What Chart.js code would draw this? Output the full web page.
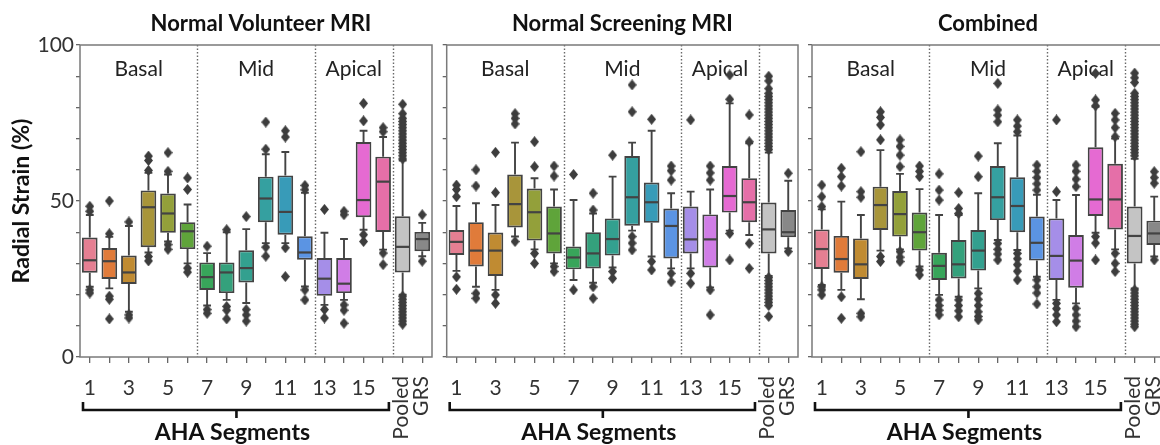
<!DOCTYPE html>
<html>
<head>
<meta charset="utf-8">
<script src="https://cdn.jsdelivr.net/npm/chart.js@4.4.1/dist/chart.umd.min.js"></script>
<style>
  html, body { margin: 0; padding: 0; background: #fff; }
  body { width: 1160px; height: 445px; overflow: hidden; position: relative; }
  canvas { position: absolute; top: 0; }
</style>
</head>
<body>
<canvas id="volunteerChart" width="440" height="445" style="left:0px"></canvas>
<canvas id="screeningChart" width="368" height="445" style="left:436px"></canvas>
<canvas id="combinedChart" width="368" height="445" style="left:802px"></canvas>
<script>
const segments = ['1', '2', '3', '4', '5', '6', '7', '8', '9', '10', '11', '12', '13', '14', '15', '16', 'Pooled', 'GRS'];
const regionNames = ['Basal', 'Mid', 'Apical'];
const regionCenters = [2.5, 8.5, 13.5]; // in category units
const dividerAfter = [5, 11, 15];
const yTicks = [0, 50, 100];

const boxColors = ['#e57f92', '#e07b3a', '#c08b32', '#a8953a', '#93a03a', '#5fa43a', '#38a55a', '#34a17c', '#33a08f',
    '#35a0a0', '#389bb8', '#5b94e3', '#a58ee8', '#d07de6', '#e56ad2', '#e56fa8', '#c4c4c4', '#888888'];
const lineColor = '#434343';
const outlierColor = '#3d3d3d';

// Normal Volunteer MRI
const volunteerLow = [22.5, 22, 14.5, 33.5, 37, 30, 16.5, 18.3, 17.3, 36.5, 36.5, 22.6, 16.7, 18.3, 40.8, 34.4, 20, 32.3];
const volunteerQ1 = [27, 25, 23.4, 35.2, 39.8, 34.6, 21.5, 20.5, 23.9, 43.2, 39.2, 31.2, 19.6, 20.5, 44.8, 40.1, 27.1, 33.9];
const volunteerMedian = [31, 30.7, 27.1, 48, 46, 40.3, 25.6, 27.1, 28.5, 50.8, 46.5, 33.5, 25.1, 23.5, 50.3, 56.2, 35.3, 37.8];
const volunteerQ3 = [38.3, 34.9, 32.5, 53.4, 52.4, 43.2, 30.3, 30.3, 34.2, 57.8, 58.2, 38.7, 31.7, 31.7, 68.9, 64.2, 45.1, 40.1];
const volunteerHigh = [45.5, 38.5, 42, 59, 58.5, 48.9, 33.3, 40, 41, 65, 65.7, 52.6, 39.8, 37.8, 72.5, 70.5, 63, 43];
const volunteerOutliers = [
    [48.3, 46.7, 21.5, 20.5],
    [39.5, 50, 19.5, 18.5, 12.2],
    [43.3, 13.5, 12.5],
    [64.4, 63, 59.8, 32.2, 30.8],
    [65.5, 59.5, 36, 34.5],
    [57.4, 53.7, 28.5, 27.2],
    [35.5, 15.2, 14],
    [40.8, 16.2, 15, 12.2],
    [45, 15.2, 13.5, 11.5],
    [75.3, 66.6, 35.2, 32.3],
    [72.5, 70.5, 35, 25.8],
    [55, 53.6, 21.5, 18.3],
    [47.3, 15.2, 12.5],
    [46.7, 45.6, 16.7, 15, 10.8],
    [81.3, 75.7, 39.2, 37],
    [73.5, 72.2, 33.3, 29.6],
    [81, 78, 76.5, 75.5, 74.5, 73.5, 72.5, 71.5, 70.5, 69.5, 68.5, 67.5, 66.5, 65.5, 64.5, 63.5,
        19.5, 18.5, 17.5, 16.5, 15.5, 14.5, 13.5, 12.5, 11.5, 10.5],
    [45.6, 30.7]
];

// Normal Screening MRI
const screeningLow = [27.6, 22.5, 21.5, 38.6, 34.5, 30, 24.7, 23.8, 28.7, 40.5, 32.2, 28.4, 28.4, 22.3, 40.5, 39.1, 26, 34.8];
const screeningQ1 = [32.7, 29, 26, 41.5, 37.3, 33.2, 28.1, 28.4, 32.5, 42.1, 43, 31.6, 33.2, 28.7, 46.3, 43.2, 33.2, 38.4];
const screeningMedian = [36.9, 34.1, 34.1, 49, 46.4, 39.6, 31.9, 33.2, 37.8, 51.2, 49.6, 42, 37.7, 37.7, 51.6, 49.6, 40.9, 40];
const screeningQ3 = [40.7, 43.2, 39.9, 58.5, 54, 48.2, 35.4, 40, 44.4, 64.4, 55.9, 47.6, 48.2, 45.7, 61.2, 57.3, 49.5, 47.1];
const screeningHigh = [48.4, 49.3, 48.7, 68.7, 57.3, 53.7, 50.3, 46, 57.8, 68.7, 72.5, 52.5, 53, 53.7, 81.3, 68.5, 65.5, 56.5];
const screeningOutliers = [
    [55.1, 53.7, 51.4, 25.7, 21.7],
    [60, 54.8, 20.4, 18.8],
    [65.6, 52.7, 19.9, 17.2],
    [78, 76.5, 74.7, 37],
    [69, 61, 33.2, 30],
    [61.2, 58, 29, 27.4],
    [58.5, 21.5],
    [52.5, 47.1, 22.5, 18.8],
    [64.7, 27.4, 25.2],
    [87.2, 78.6, 38.6, 36.5, 34.3],
    [76.2, 30.6, 27.9],
    [61.2, 59.7, 56.7, 26.8, 24.1],
    [76, 26.8, 23.6],
    [61.2, 59, 56.7, 21.5, 13.5],
    [90.4, 82.6, 39.6, 31.1],
    [77.6, 69, 36.4, 28.4],
    [90, 88.5, 86, 84.5, 83.5, 82.5, 81.5, 80.5, 79.5, 78.5, 77.5, 76.5, 75.5, 74.5, 73.5, 72.5, 71.5, 70.5,
        69.5, 68.5, 67.5, 66.5, 25.5, 24.5, 23.5, 22.5, 21.5, 20.5, 19.5, 18.5, 17.5, 16.5, 13],
    [58.9, 33.8]
];

// Combined
const combinedLow = [23.1, 21.5, 18.5, 34.1, 34.5, 29, 19.9, 19.3, 22, 37.5, 34.3, 25.7, 18.3, 17.2, 39.8, 34.5, 22, 32.2];
const combinedQ1 = [28.2, 27, 25, 40.7, 38.6, 34.1, 24.7, 25.2, 27.7, 43.9, 40, 30.9, 24.7, 22.2, 45.2, 40.9, 30, 35.9];
const combinedMedian = [34.6, 31.4, 29.7, 48.7, 45.8, 40, 29.2, 29.7, 34.1, 51.2, 48.4, 36.6, 32.4, 30.9, 50.5, 50.5, 38.8, 39.6];
const combinedQ3 = [40.9, 38.8, 38, 54.6, 53.2, 46.3, 33.4, 37.5, 40.7, 61.2, 57.6, 45, 44.4, 39.1, 67.2, 61.9, 48.2, 43.7];
const combinedHigh = [47.3, 49.8, 45.5, 66.3, 58.7, 53.8, 45.5, 45.5, 52.5, 68.5, 71, 52, 50.3, 51.9, 80.2, 70, 63.5, 51.4];
const combinedOutliers = [
    [55.1, 51.4, 48.2, 22.5, 21.5, 19.9],
    [60.5, 57.8, 54.8, 19.3, 12.4],
    [65.8, 53, 51.2, 14, 12.9],
    [78.6, 76.8, 74.4, 69.6, 32.2, 30.6],
    [69.6, 67.5, 64.7, 61, 33.8, 32, 30.6],
    [61.2, 59.5, 57.8, 27.9, 26.3],
    [58.7, 53.5, 50.3, 18.3, 16.5, 15, 13.5],
    [52.7, 47.6, 46, 18.3, 16.5, 14.8, 12.9],
    [64.4, 57.8, 20.4, 18.5, 16.5, 14.5, 13, 11.9],
    [87.7, 79.2, 77.5, 75.4, 36.4, 34.5, 33, 31.1],
    [76, 74, 72.2, 33.2, 31.5, 29.6, 27.5, 24.7],
    [61.5, 59.5, 57.5, 55.5, 53.5, 24.7, 22.5, 20.5, 17],
    [76, 53, 17.2, 15.5, 13.5, 11.3],
    [61.5, 59.5, 57, 54.6, 15.6, 13.5, 11.5, 9.7],
    [90.9, 82.4, 80.5, 38.6, 36.5, 31.1],
    [78.1, 76, 73.5, 70.6, 33.2, 30, 27.4],
    [91, 89.5, 88, 84.5, 83.5, 82.5, 81.5, 80.5, 79.5, 78.5, 77.5, 76.5, 75.5, 74.5, 73.5, 72.5, 71.5, 70.5,
        69.5, 68.5, 67.5, 66.5, 65.5, 64.5, 21.5, 20.5, 19.5, 18.5, 17.5, 16.5, 15.5, 14.5, 13.5, 12.5, 11.5, 10.5, 9.7],
    [59.4, 57.5, 55.7, 31.1]
];

const FONT = 'Lato, "Open Sans", sans-serif';

// thin diamond marker (seaborn 'd' flier)
const diamond = document.createElement('canvas');
diamond.width = 9;
diamond.height = 11;
(function () {
    const c = diamond.getContext('2d');
    c.fillStyle = outlierColor;
    c.beginPath();
    c.moveTo(4.5, 0);
    c.lineTo(9, 5.5);
    c.lineTo(4.5, 11);
    c.lineTo(0, 5.5);
    c.closePath();
    c.fill();
})();

// whiskers, medians, dividers and the extra labels
const boxPlotPlugin = {
    id: 'boxPlot',
    beforeDatasetsDraw(chart, args, opts) {
        const { ctx, chartArea: area, scales: { x, y } } = chart;
        const step = x.getPixelForValue(1) - x.getPixelForValue(0);
        const x0 = x.getPixelForValue(0);

        ctx.save();
        ctx.strokeStyle = '#6a6a6a';
        ctx.lineWidth = 1.4;
        ctx.setLineDash([1.5, 2]);
        dividerAfter.forEach(i => {
            const px = Math.round(x0 + (i + 0.5) * step) + 0.5;
            ctx.beginPath();
            ctx.moveTo(px, area.top);
            ctx.lineTo(px, area.bottom);
            ctx.stroke();
        });
        ctx.restore();

        ctx.save();
        ctx.font = '21px ' + FONT;
        ctx.fillStyle = '#222';
        ctx.textAlign = 'center';
        ctx.textBaseline = 'middle';
        regionNames.forEach((name, k) => ctx.fillText(name, x0 + regionCenters[k] * step, area.top + 24));
        ctx.restore();

        const meta = chart.getDatasetMeta(0);
        const boxes = chart.data.datasets[0].data;
        ctx.save();
        ctx.strokeStyle = lineColor;
        ctx.lineWidth = 1.9;
        meta.data.forEach((bar, i) => {
            const cx = bar.x;
            const capHalf = bar.width / 4;
            const segs = [[boxes[i][0], opts.low[i]], [boxes[i][1], opts.high[i]]];
            segs.forEach(([from, to]) => {
                const y1 = y.getPixelForValue(from);
                const y2 = y.getPixelForValue(to);
                ctx.beginPath();
                ctx.moveTo(cx, y1);
                ctx.lineTo(cx, y2);
                ctx.moveTo(cx - capHalf, y2);
                ctx.lineTo(cx + capHalf, y2);
                ctx.stroke();
            });
        });
        ctx.restore();
    },
    afterDatasetsDraw(chart, args, opts) {
        const { ctx, scales: { y } } = chart;
        const meta = chart.getDatasetMeta(0);
        ctx.save();
        ctx.strokeStyle = lineColor;
        ctx.lineWidth = 2.2;
        meta.data.forEach((bar, i) => {
            const py = y.getPixelForValue(opts.median[i]);
            ctx.beginPath();
            ctx.moveTo(bar.x - bar.width / 2 + 1, py);
            ctx.lineTo(bar.x + bar.width / 2 - 1, py);
            ctx.stroke();
        });
        ctx.restore();
    },
    afterDraw(chart, args, opts) {
        const { ctx, chartArea: area, scales: { x } } = chart;
        const step = x.getPixelForValue(1) - x.getPixelForValue(0);
        const x0 = x.getPixelForValue(0);

        // frame
        ctx.save();
        ctx.strokeStyle = '#7a7a7a';
        ctx.lineWidth = 1.5;
        ctx.strokeRect(area.left, area.top, area.width, area.height);
        ctx.restore();

        // panel title
        ctx.save();
        ctx.font = 'bold 22px ' + FONT;
        ctx.fillStyle = '#111';
        ctx.textAlign = 'center';
        ctx.textBaseline = 'middle';
        ctx.fillText(opts.title, (area.left + area.right) / 2 + opts.titleShift, 24);
        ctx.restore();

        // rotated Pooled / GRS labels
        ctx.save();
        ctx.font = '21px ' + FONT;
        ctx.fillStyle = '#333';
        ctx.textAlign = 'right';
        ctx.textBaseline = 'middle';
        [16, 17].forEach(i => {
            ctx.save();
            ctx.translate(x.getPixelForValue(i) - 1, area.bottom + 19);
            ctx.rotate(-Math.PI / 2);
            ctx.fillText(segments[i], 0, 0);
            ctx.restore();
        });
        ctx.restore();

        // brace under segments 1-16
        const xL = area.left + 3;
        const xR = x0 + 15.5 * step - 4;
        const xM = x0 + 7.5 * step;
        ctx.save();
        ctx.strokeStyle = '#111';
        ctx.lineWidth = 2.6;
        ctx.beginPath();
        ctx.moveTo(xL, 402);
        ctx.lineTo(xL, 410);
        ctx.lineTo(xR, 410);
        ctx.lineTo(xR, 402);
        ctx.moveTo(xM, 410);
        ctx.lineTo(xM, 418);
        ctx.stroke();
        ctx.font = 'bold 23px ' + FONT;
        ctx.fillStyle = '#111';
        ctx.textAlign = 'center';
        ctx.textBaseline = 'middle';
        ctx.fillText('AHA Segments', xM - 4, 433);
        ctx.restore();

        if (opts.yTitle) {
            ctx.save();
            ctx.font = 'bold 23px ' + FONT;
            ctx.fillStyle = '#111';
            ctx.textAlign = 'center';
            ctx.textBaseline = 'middle';
            ctx.translate(22, (area.top + area.bottom) / 2);
            ctx.rotate(-Math.PI / 2);
            ctx.fillText(opts.yTitle, 0, 0);
            ctx.restore();
        }
    }
};

function outlierPoints(outliers) {
    const pts = [];
    outliers.forEach((vals, i) => vals.forEach(v => pts.push({ x: segments[i], y: v })));
    return pts;
}

function makePanel(id, title, q1, median, q3, low, high, outliers, axisWidth, padRight, showLabels) {
    return new Chart(document.getElementById(id), {
        type: 'bar',
        data: {
            labels: segments,
            datasets: [{
                type: 'bar',
                data: q1.map((v, i) => [v, q3[i]]),
                backgroundColor: boxColors,
                borderColor: lineColor,
                borderWidth: 1.9,
                borderSkipped: false,
                barPercentage: 0.8,
                categoryPercentage: 1.0
            }, {
                type: 'line',
                data: outlierPoints(outliers),
                showLine: false,
                pointStyle: diamond,
                pointRadius: 5
            }]
        },
        options: {
            responsive: false,
            devicePixelRatio: 1,
            animation: false,
            events: [],
            layout: { padding: { top: 45, right: padRight, bottom: 0, left: 0 } },
            plugins: {
                legend: { display: false },
                tooltip: { enabled: false },
                boxPlot: {
                    title, median, low, high,
                    titleShift: showLabels ? 5 : 0,
                    yTitle: showLabels ? 'Radial Strain (%)' : null
                }
            },
            scales: {
                x: {
                    offset: true,
                    grid: { offset: false, drawOnChartArea: false, drawTicks: true, tickLength: 6, color: '#666', lineWidth: 1.3 },
                    border: { display: false },
                    ticks: {
                        autoSkip: false,
                        maxRotation: 0,
                        padding: 13,
                        color: '#333',
                        font: { family: FONT, size: 21 },
                        callback: function (val, i) { return (i < 16 && i % 2 === 0) ? this.getLabelForValue(val) : ''; }
                    },
                    afterFit: s => { s.height = 88; }
                },
                y: {
                    min: 0,
                    max: 100,
                    grid: { drawOnChartArea: false, drawTicks: true, tickLength: 4, color: '#666', lineWidth: 1.3 },
                    border: { display: false },
                    ticks: {
                        stepSize: 10,
                        padding: 2,
                        color: '#333',
                        font: { family: FONT, size: 21 },
                        callback: v => (showLabels && yTicks.includes(v)) ? v : ''
                    },
                    afterFit: s => { s.width = axisWidth; }
                }
            }
        },
        plugins: [boxPlotPlugin]
    });
}

makePanel('volunteerChart', 'Normal Volunteer MRI', volunteerQ1, volunteerMedian, volunteerQ3,
    volunteerLow, volunteerHigh, volunteerOutliers, 80, 8, true);
makePanel('screeningChart', 'Normal Screening MRI', screeningQ1, screeningMedian, screeningQ3,
    screeningLow, screeningHigh, screeningOutliers, 10.7, 6, false);
makePanel('combinedChart', 'Combined', combinedQ1, combinedMedian, combinedQ3,
    combinedLow, combinedHigh, combinedOutliers, 10, 6, false);
</script>
</body>
</html>
